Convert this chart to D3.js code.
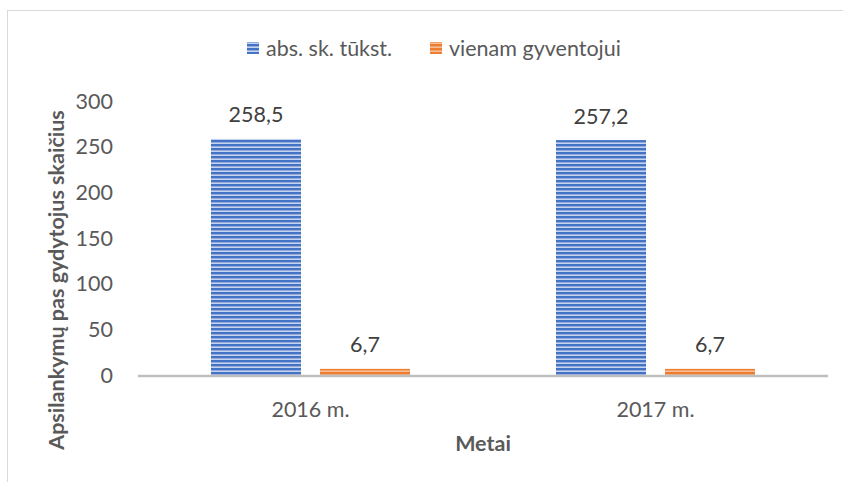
<!DOCTYPE html>
<html>
<head>
<meta charset="utf-8">
<script src="https://cdn.jsdelivr.net/npm/d3@7"></script>
<style>
  body { margin: 0; background: #fff; }
  text { font-family: Lato, "Open Sans", sans-serif; fill: #595959; }
</style>
</head>
<body>
<div id="chart-area"></div>
<script>
// data
const years = ["2016 m.", "2017 m."]
const seriesNames = ["abs. sk. tūkst.", "vienam gyventojui"]
const absValues = [258.5, 257.2]
const perCapita = [6.7, 6.7]
const yTicks = [0, 50, 100, 150, 200, 250, 300]

const width = 843, height = 482
const margin = { top: 101, right: 15, bottom: 107, left: 138 }
const fontSize = "21.5px"

const svg = d3.select("#chart-area").append("svg")
  .attr("width", width)
  .attr("height", height)

// striped fills like the office chart
const defs = svg.append("defs")
const stripes = [
  { id: "stripe-blue", dark: "#4472c4", light: "#c5d3ee" },
  { id: "stripe-orange", dark: "#ed7d31", light: "#f6bf98" }
]
stripes.forEach(s => {
  const p = defs.append("pattern")
    .attr("id", s.id)
    .attr("patternUnits", "userSpaceOnUse")
    .attr("width", 8)
    .attr("height", 4)
  p.append("rect").attr("width", 8).attr("height", 4).attr("fill", s.light)
  p.append("rect").attr("width", 8).attr("height", 2.4).attr("fill", s.dark)
})

// chart border (only top/left visible in the crop)
svg.append("rect")
  .attr("x", 7.5).attr("y", 10.5)
  .attr("width", 860).attr("height", 500)
  .attr("fill", "none")
  .attr("stroke", "#d9d9d9")

const rows = years.map((y, i) => ({ year: y, values: [absValues[i], perCapita[i]] }))

const x0 = d3.scaleBand()
  .domain(years)
  .range([margin.left, width - margin.right])

const x1 = d3.scaleBand()
  .domain([0, 1])
  .range([0, 199])
  .paddingInner(0.19 / 1.09)

const y = d3.scaleLinear()
  .domain([0, 300])
  .range([height - margin.bottom, margin.top])

// y axis labels
svg.append("g")
  .selectAll("text")
  .data(yTicks)
  .enter().append("text")
  .attr("x", 113)
  .attr("y", d => y(d))
  .attr("dy", "0.35em")
  .attr("text-anchor", "end")
  .style("font-size", fontSize)
  .text(d => d)

// bars
const groups = svg.append("g")
  .selectAll("g")
  .data(rows)
  .enter().append("g")
  .attr("transform", d => `translate(${x0(d.year) + (x0.bandwidth() - 199) / 2},0)`)

groups.selectAll("rect")
  .data(d => d.values)
  .enter().append("rect")
  .attr("x", (d, i) => x1(i))
  .attr("y", d => y(d))
  .attr("width", x1.bandwidth())
  .attr("height", d => y(0) - y(d))
  .attr("fill", (d, i) => `url(#${stripes[i].id})`)

groups.selectAll("text")
  .data(d => d.values)
  .enter().append("text")
  .attr("x", (d, i) => x1(i) + x1.bandwidth() / 2)
  .attr("y", d => y(d) - 24)
  .attr("dy", "0.35em")
  .attr("text-anchor", "middle")
  .style("font-size", fontSize)
  .style("fill", "#404040")
  .text(d => d3.format(".1f")(d).replace(".", ","))

// x axis line
svg.append("line")
  .attr("x1", margin.left)
  .attr("x2", width - margin.right)
  .attr("y1", y(0) + 1)
  .attr("y2", y(0) + 1)
  .attr("stroke", "#bfbfbf")
  .attr("stroke-width", 2.5)

// x labels
svg.append("g")
  .selectAll("text")
  .data(years)
  .enter().append("text")
  .attr("x", d => x0(d) + x0.bandwidth() / 2)
  .attr("y", 409)
  .attr("dy", "0.35em")
  .attr("text-anchor", "middle")
  .style("font-size", fontSize)
  .text(d => d)

// axis titles
svg.append("text")
  .attr("x", (margin.left + width - margin.right) / 2)
  .attr("y", 443)
  .attr("dy", "0.35em")
  .attr("text-anchor", "middle")
  .style("font-size", fontSize)
  .style("font-weight", "bold")
  .text("Metai")

svg.append("text")
  .attr("transform", "translate(56,280) rotate(-90)")
  .attr("dy", "0.35em")
  .attr("text-anchor", "middle")
  .style("font-size", fontSize)
  .style("font-weight", "bold")
  .text("Apsilankymų pas gydytojus skaičius")

// legend
const legend = svg.append("g")
  .selectAll("g")
  .data(seriesNames)
  .enter().append("g")
  .attr("transform", (d, i) => `translate(${i === 0 ? 247 : 430},48)`)

legend.append("rect")
  .attr("y", -6)
  .attr("width", 12)
  .attr("height", 12)
  .attr("fill", (d, i) => `url(#${stripes[i].id})`)

legend.append("text")
  .attr("x", 19)
  .attr("dy", "0.35em")
  .style("font-size", fontSize)
  .text(d => d)
</script>
</body>
</html>
